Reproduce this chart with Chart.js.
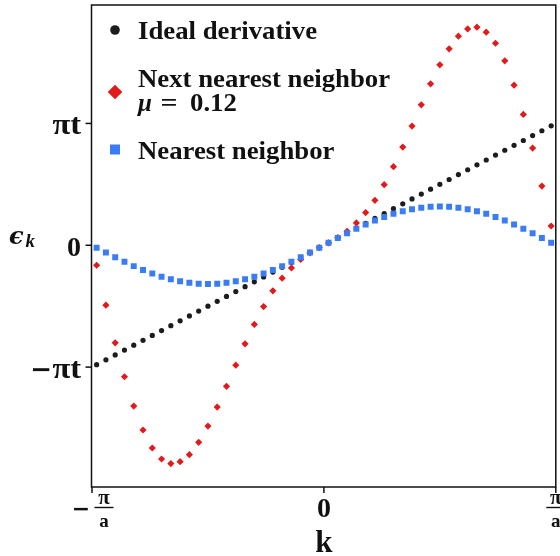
<!DOCTYPE html>
<html><head><meta charset="utf-8">
<script src="https://cdn.jsdelivr.net/npm/chart.js@4"></script>
<style>html,body{margin:0;padding:0;background:#fff;}#wrap{width:560px;height:556px;position:relative;}</style>
</head><body><div id="wrap"><canvas id="c" width="560" height="556"></canvas></div>
<script>
// k in units of pi/a ; energies in units of pi*t
const kValues = [-0.98,-0.94,-0.90,-0.86,-0.82,-0.78,-0.74,-0.70,-0.66,-0.62,-0.58,-0.54,-0.50,-0.46,-0.42,-0.38,-0.34,-0.30,-0.26,-0.22,-0.18,-0.14,-0.10,-0.06,-0.02,
  0.02,0.06,0.10,0.14,0.18,0.22,0.26,0.30,0.34,0.38,0.42,0.46,0.50,0.54,0.58,0.62,0.66,0.70,0.74,0.78,0.82,0.86,0.90,0.94,0.98];
const idealDerivative = [-0.98,-0.94,-0.90,-0.86,-0.82,-0.78,-0.74,-0.70,-0.66,-0.62,-0.58,-0.54,-0.50,-0.46,-0.42,-0.38,-0.34,-0.30,-0.26,-0.22,-0.18,-0.14,-0.10,-0.06,-0.02,
  0.02,0.06,0.10,0.14,0.18,0.22,0.26,0.30,0.34,0.38,0.42,0.46,0.50,0.54,0.58,0.62,0.66,0.70,0.74,0.78,0.82,0.86,0.90,0.94,0.98];
const nextNearest = [-0.164,-0.492,-0.801,-1.079,-1.320,-1.516,-1.664,-1.754,-1.792,-1.776,-1.719,-1.617,-1.484,-1.328,-1.158,-0.984,-0.809,-0.650,-0.503,-0.374,-0.270,-0.186,-0.117,-0.063,-0.019,
  0.019,0.063,0.115,0.183,0.268,0.369,0.497,0.645,0.806,0.978,1.153,1.325,1.481,1.612,1.716,1.776,1.790,1.749,1.658,1.514,1.314,1.074,0.798,0.486,0.158];
const nearest = [-0.020,-0.060,-0.098,-0.136,-0.171,-0.203,-0.232,-0.258,-0.279,-0.296,-0.308,-0.316,-0.318,-0.316,-0.308,-0.296,-0.279,-0.258,-0.232,-0.203,-0.171,-0.136,-0.098,-0.060,-0.020,
  0.020,0.060,0.098,0.136,0.171,0.203,0.232,0.258,0.279,0.296,0.308,0.316,0.318,0.316,0.308,0.296,0.279,0.258,0.232,0.203,0.171,0.136,0.098,0.060,0.020];
const seriesNames = ['Ideal derivative', 'Next nearest neighbor', 'Nearest neighbor'];
const muLabel = ['\u03bc', '=', '0.12'];
const yTickValues = [-1, 0, 1];
const yTickLabels = [['\u2212', '\u03c0t'], ['', '0'], ['', '\u03c0t']];
const xTickValues = [-1, 0, 1];
const xTickLabels = [['\u2212', '\u03c0', 'a'], ['', '0', ''], ['', '\u03c0', 'a']];
const xTitle = 'k';
const yTitle = ['\u03f5', 'k'];

const COLORS = ['#1c1c1c', '#e31a1c', '#3a7cf5'];
const SERIF = '"Liberation Serif", "DejaVu Serif", serif';
const DJV = '"DejaVu Serif", serif';

const decor = {
  id: 'decor',
  afterDraw(chart) {
    const ctx = chart.ctx, a = chart.chartArea;
    const xs = chart.scales.x, ys = chart.scales.y;
    ctx.save();
    // frame
    ctx.strokeStyle = '#111'; ctx.lineWidth = 1.5;
    ctx.strokeRect(a.left - 0.5, a.top, a.right - a.left + 0.5, a.bottom - a.top);
    // y ticks
    ctx.fillStyle = '#111';
    ctx.textAlign = 'right'; ctx.textBaseline = 'alphabetic';
    yTickValues.forEach((v, i) => {
      const y = ys.getPixelForValue(v);
      ctx.beginPath(); ctx.moveTo(a.left - 6.5, y); ctx.lineTo(a.left - 0.5, y); ctx.stroke();
      const [sign, body] = yTickLabels[i];
      ctx.textAlign = 'right';
      if (body === '0') {
        ctx.font = 'bold 28px ' + SERIF;
        ctx.fillText(body, a.left - 11, y + 10.5);
      } else {
        ctx.save();
        ctx.translate(a.left - 11, 0); ctx.scale(1.12, 1);
        ctx.font = 'bold 29px ' + SERIF;
        ctx.fillText(body, 0, y + 10.5);
        ctx.restore();
        if (sign) {
          ctx.font = 'bold 26px ' + DJV;
          ctx.fillText(sign, a.left - 40, y + 10.5);
        }
      }
    });
    // x ticks
    xTickValues.forEach((v, i) => {
      const x = xs.getPixelForValue(v);
      ctx.beginPath(); ctx.moveTo(x, a.bottom); ctx.lineTo(x, a.bottom + 6); ctx.stroke();
      const [sign, num, den] = xTickLabels[i];
      ctx.textAlign = 'center';
      if (!den) {
        ctx.font = 'bold 28px ' + SERIF;
        ctx.fillText(num, x, a.bottom + 30);
      } else {
        const cx = sign ? x + 12 : x;
        ctx.font = 'bold 21px ' + SERIF;
        ctx.fillText(num, cx, a.bottom + 16.5);
        ctx.font = 'bold 19px ' + SERIF;
        ctx.fillText(den, cx, a.bottom + 40);
        ctx.lineWidth = 1.4;
        ctx.beginPath(); ctx.moveTo(cx - 9.5, a.bottom + 20.5); ctx.lineTo(cx + 9.5, a.bottom + 20.5); ctx.stroke();
        if (sign) {
          ctx.font = 'bold 22px ' + DJV;
          ctx.fillText(sign, x - 11, a.bottom + 29);
        }
        ctx.lineWidth = 1.5;
      }
    });
    // axis titles
    ctx.textAlign = 'center';
    ctx.font = 'bold 31px ' + SERIF;
    ctx.fillText(xTitle, xs.getPixelForValue(0), 552);
    ctx.textAlign = 'left';
    ctx.font = 'italic bold 24px ' + DJV;
    ctx.fillText(yTitle[0], 9, 244);
    ctx.font = 'italic bold 19px ' + SERIF;
    ctx.fillText(yTitle[1], 25.5, 247);
    // legend
    const mx = a.left + 23, tx = a.left + 46;
    ctx.fillStyle = COLORS[0];
    ctx.beginPath(); ctx.arc(mx, 30, 4.8, 0, Math.PI * 2); ctx.fill();
    ctx.fillStyle = COLORS[1];
    ctx.beginPath(); ctx.moveTo(mx - 7.3, 92); ctx.lineTo(mx, 84.7); ctx.lineTo(mx + 7.3, 92); ctx.lineTo(mx, 99.3); ctx.closePath(); ctx.fill();
    ctx.fillStyle = COLORS[2];
    ctx.fillRect(mx - 5, 144.5, 10, 10);
    ctx.fillStyle = '#111';
    const sx = 1.07;
    ctx.save();
    ctx.translate(tx, 0); ctx.scale(sx, 1);
    ctx.font = 'bold 25px ' + SERIF;
    ctx.fillText(seriesNames[0], 0, 39.3);
    ctx.fillText(seriesNames[1], 0, 87.3);
    ctx.fillText(seriesNames[2], 0, 159);
    ctx.restore();
    ctx.font = 'italic bold 25px ' + SERIF;
    ctx.fillText(muLabel[0], tx, 111);
    ctx.font = 'bold 25px ' + SERIF;
    ctx.save();
    ctx.translate(tx + 31, 0); ctx.scale(1.2, 1);
    ctx.textAlign = 'center';
    ctx.fillText(muLabel[1], 0, 111);
    ctx.restore();
    ctx.save();
    ctx.translate(tx + 52, 0); ctx.scale(sx, 1);
    ctx.textAlign = 'left';
    ctx.fillText(muLabel[2], 0, 111);
    ctx.restore();
    ctx.restore();
  }
};

new Chart(document.getElementById('c'), {
  type: 'scatter',
  data: {
    datasets: [
      { label: seriesNames[0], data: kValues.map((k, i) => ({ x: k, y: idealDerivative[i] })),
        pointStyle: 'circle', pointRadius: 2.6, backgroundColor: COLORS[0], borderWidth: 0, order: 3 },
      { label: seriesNames[1], data: kValues.map((k, i) => ({ x: k, y: nextNearest[i] })),
        pointStyle: 'rectRot', pointRadius: 3.6, backgroundColor: COLORS[1], borderWidth: 0, order: 2 },
      { label: seriesNames[2], data: kValues.map((k, i) => ({ x: k, y: nearest[i] })),
        pointStyle: 'rect', pointRadius: 4.2, backgroundColor: COLORS[2], borderWidth: 0, order: 1 }
    ]
  },
  options: {
    responsive: false, animation: false, devicePixelRatio: 1, events: [],
    layout: { padding: { left: 92, right: 4, top: 5, bottom: 69 } },
    scales: {
      x: { type: 'linear', min: -1, max: 1, display: false },
      y: { type: 'linear', min: -1.984, max: 1.972, display: false }
    },
    plugins: { legend: { display: false }, tooltip: { enabled: false } }
  },
  plugins: [decor]
});
</script></body></html>
